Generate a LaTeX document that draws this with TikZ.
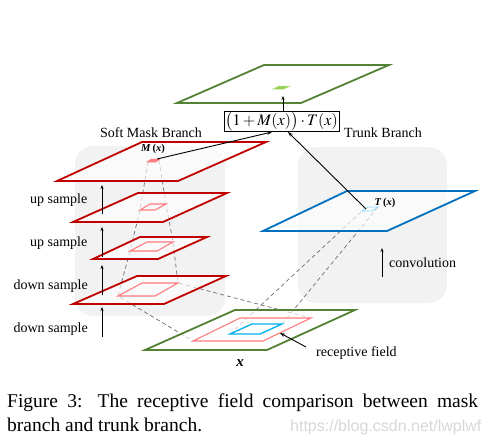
\documentclass[tikz,border=0pt]{standalone}
\usepackage{amsmath}
\usepackage{mathptmx}
\usepackage{fontspec}
\setmainfont{Liberation Serif}
\newfontfamily\wmfont{Liberation Sans}
\usetikzlibrary{arrows.meta}
\definecolor{bggray}{RGB}{242,242,242}
\definecolor{darkred}{RGB}{192,0,0}
\definecolor{pinkred}{RGB}{255,124,128}
\definecolor{olivegreen}{RGB}{84,130,53}
\definecolor{lightgreen}{RGB}{146,208,80}
\definecolor{trunkblue}{RGB}{0,112,192}
\definecolor{skyblue}{RGB}{0,176,240}
\definecolor{dashgray}{RGB}{110,110,110}
\definecolor{wmgray}{RGB}{215,215,215}
\newcommand{\bi}[1]{\textbf{\textit{#1}}}
\tikzset{
  bgpanel/.style={fill=bggray, draw=none, rounded corners=18pt},
  planefill/.style={fill=white, fill opacity=0.65, draw=none},
  redplane/.style={draw=darkred, line width=1.8pt, line join=miter},
  greenplane/.style={draw=olivegreen, line width=1.8pt},
  blueplane/.style={draw=trunkblue, line width=1.8pt},
  pinkbox/.style={draw=pinkred, line width=1.1pt},
  cyanbox/.style={draw=skyblue, line width=1.3pt},
  fieldline/.style={draw=dashgray, line width=0.7pt, dash pattern=on 4pt off 3pt},
  uparrow/.style={draw=black, line width=0.9pt, -{Stealth[length=4pt,width=3pt]}},
  conn/.style={draw=black, line width=0.9pt, -{Stealth[length=5pt,width=3.5pt]}},
  lbl/.style={font=\fontsize{14}{16}\selectfont, inner sep=0pt},
  mlbl/.style={font=\fontsize{10.5}{12}\selectfont, inner sep=0pt},
}
\begin{document}
\begin{tikzpicture}[x=1pt,y=-1pt]
\useasboundingbox (0,0) rectangle (490,437);
% gray backgrounds
\fill[bgpanel] (75,146) rectangle (225,316);
\fill[bgpanel] (298,147) rectangle (447,303);

% receptive field dashed lines
\coordinate (pL0) at (148,162); \coordinate (pR0) at (159,160);
\coordinate (pL1) at (140,210); \coordinate (pR1) at (166,204);
\coordinate (pL2) at (130,251); \coordinate (pR2) at (173,242);
\coordinate (pL3) at (118,296); \coordinate (pR3) at (178,283);
\coordinate (gL) at (193,341);  \coordinate (gR) at (311,318);
\coordinate (bL) at (230,334);  \coordinate (bR) at (282,324);
\coordinate (tL) at (362,211);  \coordinate (tR) at (378,207);
\draw[fieldline] (pL0) -- (pL1) -- (pL2) -- (pL3) -- (gL);
\draw[fieldline] (pR0) -- (pR1) -- (pR2) -- (pR3) -- (gR);
\draw[fieldline] (bL) -- (tL);
\draw[fieldline] (bR) -- (tR);

% plane fills (lighten the lines inside)
\fill[planefill] (177,103) -- (301,103) -- (389,65) -- (264,65) -- cycle;
\fill[planefill] (57,181) -- (178,181) -- (266,142) -- (142,142) -- cycle;
\fill[planefill] (73,222) -- (163,222) -- (227,193) -- (138,193) -- cycle;
\fill[planefill] (93,259) -- (158,259) -- (207,237) -- (140,237) -- cycle;
\fill[planefill] (73,304) -- (164,304) -- (226,276) -- (137,276) -- cycle;
\fill[planefill] (263,231) -- (387,231) -- (475,191) -- (347,191) -- cycle;
\fill[planefill] (145,350) -- (267,350) -- (355,310) -- (235,310) -- cycle;

% top output plane
\draw[greenplane] (177,103) -- (301,103) -- (389,65) -- (264,65) -- cycle;
\filldraw[fill=lightgreen, draw=lightgreen!70!white, line width=0.5pt]
  (273,89) -- (284,89) -- (290,86) -- (279,86) -- cycle;

% soft mask branch planes
\draw[redplane] (57,181) -- (178,181) -- (266,142) -- (142,142) -- cycle;
\filldraw[fill=pinkred, draw=pinkred, line width=0.5pt]
  (147,162) -- (156,162) -- (160,159) -- (151,159) -- cycle;
\draw[redplane] (73,222) -- (163,222) -- (227,193) -- (138,193) -- cycle;
\draw[pinkbox] (140,210) -- (155,210) -- (166,204) -- (150,204) -- cycle;
\draw[redplane] (93,259) -- (158,259) -- (207,237) -- (140,237) -- cycle;
\draw[pinkbox] (130,251) -- (157,251) -- (173,242) -- (147,242) -- cycle;
\draw[redplane] (73,304) -- (164,304) -- (226,276) -- (137,276) -- cycle;
\draw[pinkbox] (118,296) -- (155,296) -- (178,283) -- (142,283) -- cycle;

% trunk plane
\draw[blueplane] (263,231) -- (387,231) -- (475,191) -- (347,191) -- cycle;
\draw[draw=skyblue!45!white, line width=0.8pt] (362,211) -- (372,211) -- (378,207) -- (368,207) -- cycle;

% input plane
\draw[greenplane] (145,350) -- (267,350) -- (355,310) -- (235,310) -- cycle;
\draw[pinkbox] (193,341) -- (263,341) -- (311,318) -- (240,318) -- cycle;
\draw[cyanbox] (230,334) -- (260,334) -- (282,324) -- (252,324) -- cycle;

% formula box
\node[draw=black, line width=0.8pt, minimum width=115pt, minimum height=19pt, inner sep=0.5pt,
      font=\fontsize{16}{18}\selectfont] (fbox) at (281.5,121.5)
  {$\bigl(1 + M(x)\bigr) \cdot T(x)$};
\coordinate (outTarget) at (283,96);
\draw[uparrow] (fbox.north -| outTarget) -- (outTarget);

% connectors to formula box
\coordinate (mPatch) at (157,159);
\coordinate (tPatch) at (366,209);
\draw[conn] (mPatch) -- (fbox.south -| 272,0);
\draw[conn] (tPatch) -- (fbox.south -| 288,0);

% receptive field label
\node[lbl, anchor=base west] (rf) at (316,356) {receptive field};
\coordinate (rfTip) at (280,333);
\draw[conn] (306,347) -- (rfTip);

% labels
\node[lbl, anchor=base] (smb) at (151,137) {Soft Mask Branch};
\node[lbl, anchor=base west] (tb) at (344,137) {Trunk Branch};
\node[lbl, anchor=base east] (us1) at (87.5,203) {up sample};
\node[lbl, anchor=base east] (us2) at (87.5,246) {up sample};
\node[lbl, anchor=base east] (ds1) at (88,289) {down sample};
\node[lbl, anchor=base east] (ds2) at (88,332) {down sample};
\node[lbl, anchor=base west] (conv) at (389,267) {convolution};

\node[mlbl, anchor=base] (mx) at (153,151) {\bi{M}\,\textbf{(}\bi{x}\textbf{)}};
\node[mlbl, anchor=base] (tx) at (385,205) {\bi{T}\,\textbf{(}\bi{x}\textbf{)}};
\node[font=\fontsize{15}{17}\selectfont, inner sep=0pt, anchor=base] (xl) at (240,366) {\bi{x}};

% up arrows
\coordinate (a1b) at (102,214); \coordinate (a1t) at (102,185);
\coordinate (a2b) at (102,257); \coordinate (a2t) at (102,227);
\coordinate (a3b) at (102,295); \coordinate (a3t) at (102,265);
\coordinate (a4b) at (102,337); \coordinate (a4t) at (102,307);
\coordinate (a5b) at (382,277); \coordinate (a5t) at (382,248);
\draw[uparrow] (a1b) -- (a1t);
\draw[uparrow] (a2b) -- (a2t);
\draw[uparrow] (a3b) -- (a3t);
\draw[uparrow] (a4b) -- (a4t);
\draw[uparrow] (a5b) -- (a5t);

% caption
\node[font=\fontsize{19.5}{23}\selectfont, inner sep=0pt, anchor=base west] (cap1) at (7,407)
  {\makebox[471pt][s]{Figure 3: The receptive field comparison between mask}};
\node[font=\fontsize{19.5}{23}\selectfont, inner sep=0pt, anchor=base west] (cap2) at (7,431)
  {branch and trunk branch.};
\node[font=\wmfont\fontsize{16}{18}\selectfont, text=wmgray, inner sep=0pt, anchor=base west] (wm) at (290,431)
  {https://blog.csdn.net/lwplwf};
\end{tikzpicture}
\end{document}
